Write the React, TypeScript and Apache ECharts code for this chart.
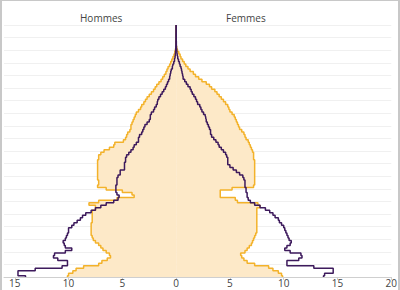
import React, { useEffect, useRef } from "react";
import * as echarts from "echarts";

const ages: string[] = Array.from({ length: 101 }, (_, i) => String(i));

// Yellow population (area), values per age 0..100
const yellowMen: number[] = [
  10.1, 10.0, 9.6, 9.3, 8.6, 7.2, 6.9, 6.4, 6.1, 6.2,
  6.5, 6.8, 7.0, 7.2, 7.5, 7.7, 7.8, 7.9, 7.9, 7.9,
  7.9, 7.9, 7.8, 7.8, 7.8, 7.8, 7.8, 7.5, 7.5, 8.1,
  7.2, 5.5, 3.9, 4.1, 5.0, 6.5, 7.3, 7.2, 7.2, 7.3,
  7.3, 7.3, 7.3, 7.3, 7.3, 7.3, 7.3, 7.2, 7.2, 7.0,
  6.7, 6.2, 5.8, 5.7, 4.9, 4.7, 4.6, 4.5, 4.3, 4.2,
  4.2, 4.1, 4.0, 3.9, 3.8, 3.7, 3.5, 3.3, 3.2, 3.0,
  2.85, 2.7, 2.5, 2.3, 2.1, 1.95, 1.8, 1.6, 1.4, 1.25,
  1.1, 0.95, 0.85, 0.75, 0.6, 0.5, 0.4, 0.3, 0.2, 0.12,
  0.06, 0, 0, 0, 0, 0, 0, 0, 0, 0, 0,
];
const yellowWomen: number[] = [
  9.9, 9.8, 9.5, 9.0, 8.6, 7.3, 6.6, 6.3, 6.1, 6.0,
  6.4, 6.6, 6.8, 7.0, 7.1, 7.2, 7.3, 7.4, 7.5, 7.5,
  7.5, 7.5, 7.5, 7.5, 7.5, 7.5, 7.5, 7.5, 7.8, 7.6,
  5.7, 5.5, 4.1, 4.1, 4.1, 5.2, 7.2, 7.3, 7.3, 7.3,
  7.3, 7.3, 7.3, 7.3, 7.3, 7.3, 7.3, 7.2, 7.2, 7.2,
  7.1, 7.0, 6.9, 6.8, 6.7, 6.5, 6.4, 6.3, 6.1, 5.9,
  5.8, 5.7, 5.6, 5.5, 5.4, 5.2, 5.0, 4.9, 4.8, 4.6,
  4.4, 4.2, 4.0, 3.8, 3.6, 3.3, 3.1, 2.8, 2.4, 2.1,
  1.8, 1.6, 1.3, 1.1, 0.9, 0.75, 0.6, 0.45, 0.37, 0.25,
  0.12, 0.05, 0, 0, 0, 0, 0, 0, 0, 0, 0,
];

// Purple population (line), values per age 0..100
const purpleMen: number[] = [
  14.0, 14.7, 14.7, 13.1, 10.6, 10.1, 10.1, 11.0, 11.4, 11.3,
  10.3, 9.7, 10.3, 10.4, 10.5, 10.3, 10.2, 10.1, 10.0, 10.0,
  9.7, 9.5, 9.2, 8.9, 8.7, 8.4, 7.9, 7.5, 7.0, 6.5,
  5.8, 5.4, 5.3, 5.5, 5.6, 5.6, 5.6, 5.5, 5.5, 5.5,
  5.4, 5.2, 5.2, 4.8, 4.8, 4.8, 4.7, 4.7, 4.6, 4.4,
  4.2, 4.0, 3.9, 3.7, 3.5, 3.5, 3.4, 3.2, 3.1, 3.0,
  2.9, 2.7, 2.5, 2.4, 2.4, 2.3, 2.1, 2.0, 1.85, 1.75,
  1.7, 1.6, 1.45, 1.3, 1.15, 1.0, 0.9, 0.8, 0.7, 0.6,
  0.55, 0.5, 0.45, 0.35, 0.3, 0.22, 0.15, 0.1, 0.07, 0.05,
  0.04, 0.03, 0.02, 0.02, 0.01, 0.01, 0.01, 0, 0, 0, 0,
];
const purpleWomen: number[] = [
  13.7, 13.8, 14.6, 14.6, 12.8, 10.3, 10.3, 11.4, 11.7, 11.6,
  10.6, 10.1, 10.3, 10.6, 10.7, 10.5, 10.4, 10.3, 10.2, 10.1,
  10.0, 9.8, 9.6, 9.5, 9.2, 9.0, 8.7, 8.3, 7.8, 7.3,
  6.9, 6.7, 6.6, 6.6, 6.5, 6.5, 6.4, 6.4, 6.4, 6.3,
  6.2, 5.9, 5.6, 5.3, 5.0, 4.8, 4.8, 4.8, 4.7, 4.6,
  4.4, 4.2, 4.0, 3.9, 3.7, 3.5, 3.3, 3.2, 3.2, 3.1,
  3.0, 2.9, 2.8, 2.75, 2.7, 2.55, 2.4, 2.3, 2.2, 2.0,
  1.9, 1.8, 1.65, 1.5, 1.4, 1.3, 1.1, 0.95, 0.8, 0.65,
  0.6, 0.55, 0.5, 0.45, 0.37, 0.3, 0.22, 0.15, 0.1, 0.07,
  0.05, 0.03, 0.02, 0.02, 0.01, 0.01, 0.01, 0, 0, 0, 0,
];

const tickValues: number[] = [-15, -10, -5, 0, 5, 10, 15, 20];
const sideLabels: string[] = ["Hommes", "Femmes"];

const YELLOW = "#f3b22a";
const FILL = "#fde9c8";
const PURPLE = "#3d1a5c";
const FONT = "'Open Sans', 'DejaVu Sans', sans-serif";

export default function App() {
  const ref = useRef<HTMLDivElement>(null);

  useEffect(() => {
    if (!ref.current) return;
    const chart = echarts.init(ref.current, undefined, { renderer: "svg" });
    const lineBase = {
      type: "line" as const,
      step: "middle" as const,
      symbol: "none",
      silent: true,
    };
    chart.setOption({
      animation: false,
      grid: { left: 4, right: 4, top: 25, bottom: 13, containLabel: false },
      xAxis: {
        type: "value",
        min: -16,
        max: 20,
        axisLine: { show: true, lineStyle: { color: "#cfcfcf", width: 1 } },
        axisTick: {
          show: true,
          customValues: tickValues,
          length: 3,
          lineStyle: { color: "#cfcfcf" },
        },
        axisLabel: {
          customValues: tickValues,
          formatter: (v: number) => String(Math.abs(v)),
          color: "#444",
          fontSize: 10,
          lineHeight: 10,
          fontFamily: FONT,
          margin: 1,
        },
        splitLine: { show: false },
      },
      yAxis: {
        type: "category",
        data: ages,
        boundaryGap: false,
        axisLine: { show: false },
        axisTick: { show: false },
        axisLabel: { show: false },
        splitLine: {
          show: true,
          interval: 4,
          lineStyle: { color: "#f0f0f0", width: 1 },
        },
      },
      graphic: [
        {
          type: "text",
          left: 105 - 25,
          top: 13,
          style: {
            text: sideLabels[0],
            fill: "#444",
            font: `10px ${FONT}`,
            width: 50,
            align: "center",
          },
        },
        {
          type: "text",
          left: 251 - 25,
          top: 13,
          style: {
            text: sideLabels[1],
            fill: "#444",
            font: `10px ${FONT}`,
            width: 50,
            align: "center",
          },
        },
      ],
      series: [
        {
          ...lineBase,
          name: "yellowMen",
          data: yellowMen.map((v) => -v),
          lineStyle: { color: YELLOW, width: 1.5 },
          areaStyle: { color: FILL, opacity: 1 },
          z: 1,
        },
        {
          ...lineBase,
          name: "yellowWomen",
          data: yellowWomen,
          lineStyle: { color: YELLOW, width: 1.5 },
          areaStyle: { color: FILL, opacity: 1 },
          z: 1,
        },
        {
          ...lineBase,
          name: "purpleMen",
          data: purpleMen.map((v) => -v),
          lineStyle: { color: PURPLE, width: 1.5 },
          z: 3,
        },
        {
          ...lineBase,
          name: "purpleWomen",
          data: purpleWomen,
          lineStyle: { color: PURPLE, width: 1.5 },
          z: 3,
        },
      ],
    });
    return () => chart.dispose();
  }, []);

  return (
    <div style={{ position: "fixed", left: 0, top: 0, width: 400, height: 290, background: "#fff" }}>
      <div ref={ref} style={{ position: "absolute", left: 0, top: 0, width: 400, height: 290 }} />
      <div
        style={{
          position: "absolute",
          left: 0,
          top: 0,
          width: 400,
          height: 290,
          boxSizing: "border-box",
          borderLeft: "2px solid #c8c8c8",
          borderRight: "2px solid #c8c8c8",
          borderTop: "1px solid #c8c8c8",
          pointerEvents: "none",
        }}
      />
    </div>
  );
}
